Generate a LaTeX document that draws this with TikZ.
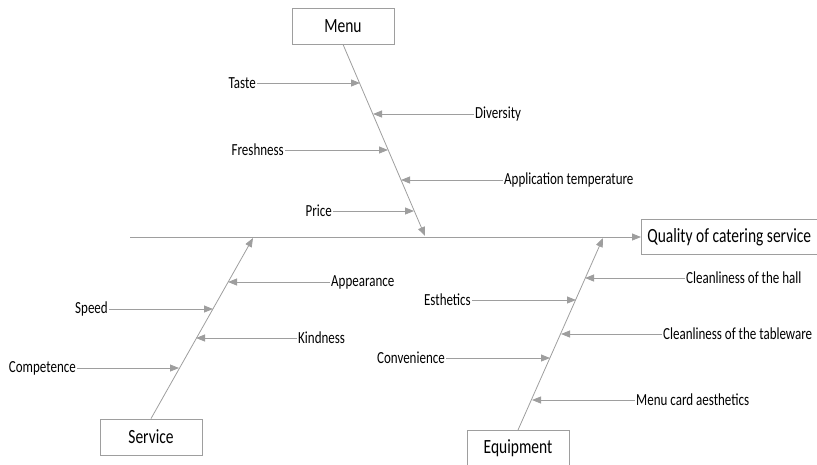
\documentclass[tikz,border=0pt]{standalone}
\usepackage{fontspec}
\usepackage{graphicx}
\setmainfont{Carlito}
\usetikzlibrary{arrows.meta}
% tall, narrow lettering
\newcommand{\tallt}[1]{\scalebox{1}[1.3]{#1}}
\begin{document}
\begin{tikzpicture}[x=1pt,y=-1pt,
  bone/.style={draw=black!38,line width=0.8pt},
  cause/.style={draw=black!38,line width=0.8pt,-{Triangle[length=9pt,width=7pt,fill=black!38]}},
  catbox/.style={draw=black!38,line width=0.8pt,fill=white,minimum width=102pt,minimum height=36pt,font=\fontsize{15.5}{17}\selectfont,inner sep=0pt},
  lbl/.style={font=\fontsize{13}{15}\selectfont,inner sep=1pt}]
\useasboundingbox (0,0) rectangle (817,464);
\clip (0,0) rectangle (817,464);

% spine and effect
\node[draw=black!38,line width=0.8pt,minimum height=35pt,inner xsep=6pt,font=\fontsize{15.5}{17}\selectfont,anchor=west] (effect) at (641,237) {\tallt{Quality of catering service}};
\coordinate (tail) at (130,237);
\draw[cause] (tail) -- (effect.west);

% category boxes
\node[catbox] (menu) at (343,26) {\tallt{Menu}};
\node[catbox] (service) at (151,437) {\tallt{Service}};
\node[catbox,anchor=north] (equip) at (518,430) {\tallt{Equipment}};

% bones
\coordinate (menuend) at (425,236);
\coordinate (servend) at (253,238);
\coordinate (equipend) at (603,238);
\draw[cause] (menu.south) -- (menuend);
\draw[cause] (service.north) -- (servend);
\draw[cause] (equip.north) -- (equipend);

% Menu causes
\node[lbl,anchor=east] (taste) at (257,83) {\tallt{Taste}};
\node[lbl,anchor=west] (divers) at (474,114) {\tallt{Diversity}};
\node[lbl,anchor=east] (fresh) at (285,150) {\tallt{Freshness}};
\node[lbl,anchor=west] (temp) at (503,180) {\tallt{Application temperature}};
\node[lbl,anchor=east] (price) at (333,211) {\tallt{Price}};
\coordinate (m1) at (360,83);
\coordinate (m2) at (373,114);
\coordinate (m3) at (388,150);
\coordinate (m4) at (401,180);
\coordinate (m5) at (414,211);
\draw[cause] (taste.east) -- (m1);
\draw[cause] (divers.west) -- (m2);
\draw[cause] (fresh.east) -- (m3);
\draw[cause] (temp.west) -- (m4);
\draw[cause] (price.east) -- (m5);

% Service causes
\node[lbl,anchor=west] (appear) at (330,282) {\tallt{Appearance}};
\node[lbl,anchor=east] (speed) at (109,309) {\tallt{Speed}};
\node[lbl,anchor=west] (kind) at (297,338) {\tallt{Kindness}};
\node[lbl,anchor=east] (compet) at (77,368) {\tallt{Competence}};
\coordinate (s1) at (228,282);
\coordinate (s2) at (213,309);
\coordinate (s3) at (196,338);
\coordinate (s4) at (179,368);
\draw[cause] (appear.west) -- (s1);
\draw[cause] (speed.east) -- (s2);
\draw[cause] (kind.west) -- (s3);
\draw[cause] (compet.east) -- (s4);

% Equipment causes
\node[lbl,anchor=west] (hall) at (685,278) {\tallt{Cleanliness of the hall}};
\node[lbl,anchor=east] (esth) at (472,300) {\tallt{Esthetics}};
\node[lbl,anchor=west] (table) at (662,334) {\tallt{Cleanliness of the tableware}};
\node[lbl,anchor=east] (conv) at (446,358) {\tallt{Convenience}};
\node[lbl,anchor=west] (card) at (635,400) {\tallt{Menu card aesthetics}};
\coordinate (e1) at (585,278);
\coordinate (e2) at (576,300);
\coordinate (e3) at (561,334);
\coordinate (e4) at (550,358);
\coordinate (e5) at (532,400);
\draw[cause] (hall.west) -- (e1);
\draw[cause] (esth.east) -- (e2);
\draw[cause] (table.west) -- (e3);
\draw[cause] (conv.east) -- (e4);
\draw[cause] (card.west) -- (e5);
\end{tikzpicture}
\end{document}
